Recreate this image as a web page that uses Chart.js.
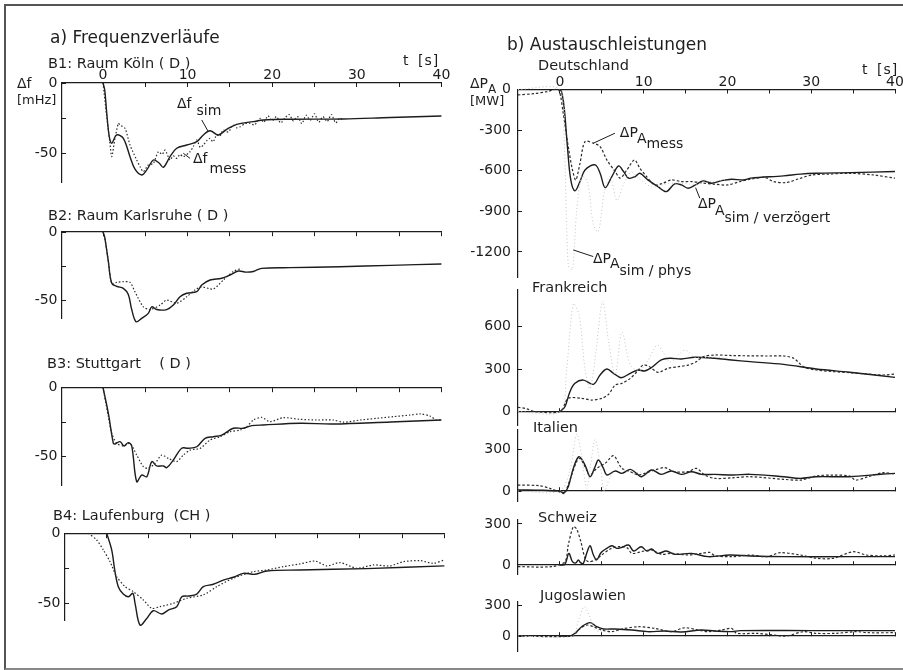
<!DOCTYPE html>
<html><head><meta charset="utf-8">
<script src="https://cdn.jsdelivr.net/npm/chart.js@4.4.1/dist/chart.umd.min.js"></script>
<style>
body{margin:0;background:#fff;width:903px;height:670px;overflow:hidden;position:relative;font-family:"DejaVu Sans",sans-serif;color:#1e1e1e}
.frame{position:absolute;left:4px;top:4px;width:905px;height:662px;border-top:2px solid #555;border-left:2px solid #555;border-bottom:2px solid #888}
.t{position:absolute;white-space:pre;line-height:1;color:#1e1e1e}
canvas{position:absolute}
</style></head><body>
<div class="frame"></div>
<script>
// ---------- DATA (time t [s], value) ----------
// a) Frequenzverläufe, Δf [mHz]
const B1_SIM = [[0,0],[0.2,-5],[0.44,-21.6],[0.74,-38.4],[1.03,-43.1],[1.62,-37.1],[2.4,-39.5],[3.19,-52.6],[3.78,-61.6],[4.57,-65.7],[5.17,-62.1],[5.95,-55],[6.6,-57],[7.13,-60.2],[7.92,-52.6],[8.71,-46.6],[9.89,-44.3],[11.08,-41.9],[11.86,-37.1],[12.65,-34.1],[13.63,-37.1],[14.62,-33.1],[15.8,-29.5],[17.77,-27.6],[18.95,-26.4],[22.1,-25.9],[28.4,-25.7],[34,-24.6],[40,-23.6]];
const B1_MESS = [[0,0],[0.44,-24],[0.8,-42],[1.03,-52.6],[1.4,-40],[1.81,-28.8],[2.0,-30],[2.6,-32.4],[3.19,-44.3],[3.98,-55],[4.4,-60],[4.76,-63.4],[5.35,-58.6],[5.95,-57.4],[6.54,-49.1],[7.0,-51],[7.33,-47.9],[7.92,-55],[8.3,-52],[8.71,-53.8],[9.1,-51],[9.49,-52.6],[10.28,-49.1],[10.7,-45],[11.08,-40.7],[11.5,-46],[11.86,-44.3],[12.3,-41],[12.65,-39.5],[13.0,-42],[13.44,-37.1],[13.8,-38],[14.22,-33.6],[14.8,-35],[15.4,-30],[15.8,-32],[16.2,-31.2],[16.8,-29],[17.4,-28.8],[17.9,-30],[18.56,-25.2],[19.0,-28],[19.5,-23.5],[20.0,-27],[20.5,-24],[21.0,-28.5],[21.5,-25],[22.0,-22.5],[22.5,-27],[23.0,-24],[23.5,-29],[24.0,-23],[24.5,-26.5],[25.0,-22],[25.5,-28],[26.0,-24],[26.5,-27.5],[27.0,-22.5],[27.5,-28.5],[28.0,-25],[28.4,-27]];
const B2_SIM = [[0,0],[0.2,-4],[0.63,-21.8],[1.03,-37.7],[1.62,-40],[2.4,-41.4],[2.99,-46],[3.39,-57],[3.9,-65.9],[4.57,-63.5],[5.35,-59.8],[5.76,-55],[6.35,-57],[7.53,-57],[8.31,-53.7],[9.1,-47.6],[9.89,-45],[11.08,-43.9],[11.67,-39],[12.65,-35.3],[14.03,-34],[15.01,-31.6],[15.99,-28.7],[16.9,-29.5],[17.77,-29],[18.76,-26.7],[22.1,-26.2],[28,-25.5],[34,-24.5],[40,-23.5]];
const B2_MESS = [[0,0],[0.2,-4],[0.63,-21.8],[1.03,-37.7],[1.62,-37],[2.4,-36.5],[3.19,-37],[3.78,-44],[4.76,-55],[5.56,-57],[6.74,-53.7],[7.53,-50],[8.71,-52.4],[9.89,-47.6],[10.87,-42.6],[11.67,-40.4],[13.04,-41.9],[14.22,-35.3],[15.4,-29],[16.4,-26.7]];
const B3_SIM = [[0,0],[0.63,-18.6],[1.22,-40.3],[1.42,-40.8],[2.01,-39.1],[2.48,-42.2],[2.99,-39.8],[3.39,-42.2],[3.98,-68.1],[4.57,-63.3],[5.17,-64.5],[5.76,-53.6],[6.35,-56.7],[7.13,-56.7],[7.53,-57.9],[8.31,-52.4],[9.3,-43.9],[10.08,-43.9],[11.08,-42.8],[12.06,-36.7],[13.04,-35.5],[14.03,-34.3],[15.4,-29.4],[16.58,-29.4],[17.58,-27.5],[18.95,-27],[23.3,-25.8],[27.2,-26.3],[34,-24.8],[40,-23.4]];
const B3_MESS = [[0,0],[0.63,-21],[1.03,-33],[1.62,-40.3],[2.4,-42.2],[3.19,-40.3],[3.98,-48.8],[4.76,-57.2],[5.35,-58.5],[6.15,-54.8],[6.94,-48.8],[7.72,-51.2],[8.71,-53.6],[9.49,-48.8],[10.28,-45.2],[11.47,-44],[12.65,-37.9],[13.83,-35.5],[15.01,-31.9],[16.2,-30.7],[16.99,-28.3],[17.77,-23.4],[18.76,-21.5],[19.74,-24.6],[21.31,-21.7],[23.29,-22.9],[25.26,-23.4],[27.2,-23.4],[28.4,-25],[30.4,-23.4],[32.35,-22.2],[34.3,-21],[36.3,-19.8],[37.5,-19],[38.65,-20.5],[39.4,-23.4],[40,-23.4]];
const B4_SIM = [[0.08,0],[0.67,-11.9],[1.06,-27.4],[1.45,-38.1],[2.04,-43.4],[2.64,-45.3],[3.16,-42.9],[3.43,-50],[4.02,-65.5],[4.81,-60.9],[5.59,-55.3],[6.58,-57.6],[7.36,-54.8],[8.36,-52.4],[8.95,-45.3],[9.73,-44.8],[10.72,-43.4],[11.5,-38.1],[12.68,-36.4],[13.87,-33.4],[15.05,-31.4],[16.23,-28.6],[17.61,-29.3],[19,-26.9],[22.9,-26.2],[30.8,-25.2],[40,-23.3]];
const B4_MESS = [[-2.09,0],[-1.1,-4.8],[-0.32,-11.9],[0.47,-20.2],[1.26,-31],[2.25,-38.1],[3.23,-41.7],[4.41,-47.6],[5.4,-53.6],[6.38,-52.4],[7.96,-50],[9.54,-46.4],[11.5,-44],[13.09,-38.1],[15.05,-32.1],[17.41,-27.4],[19,-26.2],[20.96,-23.8],[22.93,-21.9],[24.7,-19.8],[26.1,-23.3],[27.66,-20.9],[29.63,-25],[31.6,-22.6],[33.57,-23.3],[35.14,-20.3],[37.1,-19.5],[38.7,-21.4],[40,-19]];
// b) Austauschleistungen, ΔP_A [MW]
const DE_SIM = [[0,0],[0.2,-16],[0.5,-127],[0.9,-422],[1.3,-668],[1.8,-749],[2.4,-680],[3.0,-594],[4.2,-557],[4.8,-619],[5.4,-725],[6.2,-643],[7.0,-565],[7.6,-606],[8.2,-655],[9.0,-643],[9.55,-619],[10.5,-668],[11.7,-717],[12.7,-754],[13.7,-697],[14.5,-705],[15.3,-729],[16.3,-700],[17.1,-675],[18.1,-692],[19.3,-673],[20.5,-663],[21.9,-668],[22.8,-655],[26.7,-638],[28.7,-625],[30.6,-619],[34.6,-614],[40,-606]];
const DE_MESS = [[-5,-40],[-3,-30],[-1.5,-15],[-0.6,0],[-0.1,-5],[0.4,-176],[1.0,-422],[1.5,-594],[1.9,-668],[2.4,-545],[3.0,-385],[4.0,-397],[4.8,-422],[5.6,-520],[6.6,-606],[7.2,-655],[8.0,-594],[8.9,-520],[9.55,-582],[10.35,-643],[11.3,-705],[12.3,-692],[13.3,-668],[14.5,-680],[15.7,-680],[17,-690],[18.5,-700],[20,-705],[21.5,-680],[23,-660],[24.5,-650],[25.5,-680],[27,-688],[28.5,-660],[30.1,-631],[32,-625],[34.6,-619],[37.4,-631],[40,-655]];
const DE_PHYS = [[-5,0],[0,0],[0.5,-350],[1.0,-1300],[1.5,-1330],[2.0,-900],[2.6,-640],[3.3,-680],[4.0,-1000],[4.6,-1050],[5.3,-760],[6.0,-640],[6.8,-820],[7.6,-700],[8.5,-610],[9.5,-660],[11,-720],[12.5,-700],[14,-690],[16,-700],[18,-680],[20,-665]];
const FR_SIM = [[0,0],[0.6,34],[1.2,140],[1.8,199],[2.8,222],[4.0,192],[4.8,258],[5.6,300],[6.4,270],[7.3,239],[8.4,270],[9.35,293],[10.1,286],[10.9,309],[12.1,364],[13.1,376],[14.5,371],[16.1,383],[18.5,376],[20.5,364],[22.7,352],[26.7,333],[30.6,300],[34.6,277],[40,241]];
const FR_MESS = [[-5,30],[-4,20],[-3,0],[0,0],[1.0,93],[2.6,93],[3.8,81],[5.0,93],[5.8,121],[6.6,187],[7.4,199],[8.4,234],[9.2,281],[9.95,328],[10.7,316],[11.7,277],[12.9,305],[14.1,316],[15.3,328],[16.3,352],[17.1,387],[18.5,399],[20.6,395],[24.7,392],[26.7,392],[27.9,376],[29.1,316],[30.6,293],[34.6,274],[38.6,258],[40,265]];
const FR_PHYS = [[-5,0],[0,0],[0.8,300],[1.6,760],[2.3,680],[3.0,300],[3.6,160],[4.3,420],[5.1,780],[5.8,500],[6.6,260],[7.4,560],[8.4,330],[9.5,290],[10.5,360],[11.6,470],[12.3,420],[13.2,350],[14.9,434],[16.2,380],[18,385],[20,375]];
const IT_SIM = [[-5,8],[-2,5],[0,-3],[0.5,-12],[1.0,31],[1.6,163],[2.27,247],[3.0,187],[3.6,103],[4.2,175],[4.6,223],[5.2,163],[5.6,115],[6.6,144],[7.4,127],[8.4,156],[9.15,127],[9.75,103],[10.95,151],[12.1,120],[13.3,144],[14.5,120],[15.7,139],[16.9,120],[18.5,120],[20.7,115],[22.7,120],[26.7,103],[28.7,91],[30.6,103],[34.6,103],[38.6,122],[40,127]];
const IT_MESS = [[-5,43],[-2.4,38],[-1.2,19],[0.4,-17],[0.6,-17],[1.4,115],[2.0,211],[2.4,235],[3.0,175],[3.6,115],[4.4,163],[5.4,199],[6.4,254],[7.4,163],[8.4,139],[9.35,115],[10.1,127],[11.3,151],[12.5,168],[13.7,139],[15.3,139],[16.3,163],[17.3,115],[18.5,91],[20.6,95],[22.7,103],[26.7,84],[28.7,79],[30.6,108],[32.5,115],[34.6,108],[35.3,79],[36.8,103],[38.6,132],[40,122]];
const IT_PHYS = [[-5,0],[0,0],[1.2,150],[2.0,410],[2.6,250],[3.2,20],[3.7,200],[4.2,370],[4.8,200],[5.3,0],[6,100],[7,170],[8,140],[9,130],[10,140]];
const CH_SIM = [[0,0],[0.6,5],[1.07,85],[1.5,24],[1.9,15],[2.2,37],[2.5,15],[2.8,12],[3.2,85],[3.6,141],[4.0,73],[4.4,37],[4.9,90],[5.6,122],[6.2,141],[6.8,122],[7.3,127],[8.2,146],[8.8,102],[9.7,134],[10.4,102],[10.95,117],[11.7,85],[12.7,102],[13.7,78],[15.7,85],[17.7,61],[20.3,73],[22.7,66],[26.7,61],[34.6,61],[40,61]];
const CH_MESS = [[-5,-12],[-1,-12],[0.6,24],[1.0,146],[1.6,280],[2.0,263],[2.5,171],[3.0,49],[3.4,24],[4.2,37],[5.0,73],[6.0,117],[7.0,134],[8.0,127],[8.6,85],[9.75,98],[10.95,110],[12.1,78],[13.3,85],[15.3,73],[16.9,85],[17.9,92],[18.5,68],[20.5,61],[22.7,73],[24.7,61],[26.3,90],[28.7,73],[30.6,49],[32.6,49],[35.0,97],[36.6,73],[38.5,66],[40,73]];
const YU_SIM = [[0,0],[1.2,0],[1.8,26],[2.6,90],[3.6,129],[4.4,90],[5.2,68],[6.6,68],[8.6,58],[10.5,42],[12.5,48],[14.5,39],[16.9,58],[18.5,48],[20.5,42],[21.5,52],[30,52],[40,52]];
const YU_MESS = [[-5,0],[1.5,0],[2.2,58],[3.2,106],[4.0,90],[5.0,58],[6.2,42],[7.4,68],[9.35,90],[11.3,74],[13.3,42],[14.9,80],[16.5,58],[17.7,42],[19.3,58],[20.5,74],[21.1,26],[23.5,26],[25.5,10],[27,0],[29.1,42],[30.5,26],[33,26],[35.3,42],[36.8,32],[40,32]];
const YU_PHYS = [[-5,0],[1.5,0],[2.2,150],[2.9,285],[3.5,200],[4.2,60],[5,45],[6,55]];

// tick values and labels
const X_TICKS = [0, 5, 10, 15, 20, 25, 30, 35, 40];
const X_TICK_LABELS = [0, 10, 20, 30, 40];
const B_Y_TICKS = [0, -25, -50];
const B_Y_LABELS = [0, -50];
const DE_Y_TICKS = [0, -300, -600, -900, -1200];
const FR_Y_TICKS = [0, 300, 600];
const SMALL_Y_TICKS = [0, 300];

// ---------- STYLE ----------
const FONT = '"DejaVu Sans", sans-serif';
const INK = '#1c1c1c';
const STYLE = {
  sim:   {borderColor: INK, borderWidth: 1.4, borderDash: [], tension: 0.35},
  mess:  {borderColor: '#2a2a2a', borderWidth: 1.2, borderDash: [1.5, 2], tension: 0.25},
  messR: {borderColor: '#2a2a2a', borderWidth: 1.2, borderDash: [2.5, 2], tension: 0.3},
  phys:  {borderColor: '#c4c4c4', borderWidth: 1, borderDash: [1, 2.5], tension: 0.3}
};

function notesPlugin(notes) {
  return {
    id: 'notes',
    afterDatasetsDraw(chart) {
      if (!notes) return;
      const {ctx} = chart, x = chart.scales.x, y = chart.scales.y;
      ctx.save();
      ctx.strokeStyle = INK; ctx.fillStyle = INK; ctx.lineWidth = 1;
      (notes.lines || []).forEach(l => {
        ctx.beginPath();
        ctx.moveTo(x.getPixelForValue(l[0]), y.getPixelForValue(l[1]));
        ctx.lineTo(x.getPixelForValue(l[2]), y.getPixelForValue(l[3]));
        ctx.stroke();
      });
      (notes.texts || []).forEach(t => {
        let px = x.getPixelForValue(t.at[0]);
        const py = y.getPixelForValue(t.at[1]);
        t.parts.forEach(p => {
          ctx.font = (p.size || 14) + 'px ' + FONT;
          ctx.textBaseline = 'alphabetic';
          px += (p.gap || 0);
          ctx.fillText(p.text, px, py + (p.dy || 0));
          px += ctx.measureText(p.text).width;
        });
      });
      ctx.restore();
    }
  };
}

function makeChart(c) {
  const XH = c.xTop ? 22 : 0, M = 28;
  const cl = Math.floor(c.L - c.yw), ct = Math.floor(c.T - XH - M);
  const cw = Math.ceil(c.R + M) - cl, ch = Math.ceil(c.B + M) - ct;
  const cv = document.createElement('canvas');
  cv.width = cw; cv.height = ch;
  cv.style.left = cl + 'px'; cv.style.top = ct + 'px';
  cv.style.width = cw + 'px'; cv.style.height = ch + 'px';
  document.body.appendChild(cv);
  const pad = {left: c.L - c.yw - cl, top: c.T - XH - ct, right: cl + cw - c.R, bottom: ct + ch - c.B};
  const datasets = c.series.map(([kind, pts]) => Object.assign({
    data: pts.map(p => ({x: p[0], y: p[1]})),
    pointRadius: 0, fill: false, clip: false
  }, STYLE[kind]));
  new Chart(cv, {
    type: 'line',
    data: {datasets},
    options: {
      responsive: false, animation: false, devicePixelRatio: 1, events: [],
      layout: {padding: pad},
      elements: {line: {capBezierPoints: false}, point: {radius: 0}},
      plugins: {legend: {display: false}, tooltip: {enabled: false}},
      scales: {
        x: {
          type: 'linear', axis: 'x', position: c.xTop ? 'top' : {y: 0},
          min: c.xmin, max: c.xmax,
          afterBuildTicks: s => { s.ticks = X_TICKS.map(v => ({value: v})); },
          afterFit: s => { if (c.xTop) s.height = XH; },
          grid: {drawOnChartArea: false, color: INK, lineWidth: 1, tickLength: c.xtl},
          border: {display: true, color: INK, width: 1.2},
          ticks: {display: !!c.xTop, padding: 3, maxRotation: 0, autoSkip: false,
                  font: {family: FONT, size: 14}, color: INK,
                  callback: v => X_TICK_LABELS.includes(Math.round(v)) ? String(Math.round(v)) : ''}
        },
        y: {
          type: 'linear', position: 'left', min: c.ymin, max: c.ymax,
          afterBuildTicks: s => { s.ticks = c.yticks.map(v => ({value: v})); },
          afterFit: s => { s.width = c.yw; },
          grid: {drawOnChartArea: false, color: INK, lineWidth: 1, tickLength: -4},
          border: {display: true, color: INK, width: 1.2},
          ticks: {padding: c.ypad, autoSkip: false,
                  font: {family: FONT, size: 14}, color: INK,
                  callback: v => c.ylabels.includes(Math.round(v)) ? String(Math.round(v)) : ''}
        }
      }
    },
    plugins: [notesPlugin(c.notes)]
  });
}

const B1_NOTES = {
  lines: [[11.67, -26.4, 12.45, -34.8], [9.49, -50.2, 10.28, -53.8]],
  texts: [
    {at: [8.75, -17.9], parts: [{text: 'Δf'}, {text: 'sim', dy: 7, gap: 5}]},
    {at: [10.64, -57.1], parts: [{text: 'Δf'}, {text: 'mess', dy: 10, gap: 2}]}
  ]
};
const DE_NOTES = {
  lines: [[3.98, -397, 6.57, -323], [16.2, -725, 16.7, -803], [1.59, -1185, 3.98, -1234]],
  texts: [
    {at: [7.16, -351], parts: [{text: 'ΔP'}, {text: 'A', dy: 6, gap: -1}, {text: 'mess', dy: 11}]},
    {at: [16.48, -875], parts: [{text: 'ΔP'}, {text: 'A', dy: 7, gap: -1}, {text: 'sim / verzögert', dy: 14}]},
    {at: [3.94, -1280], parts: [{text: 'ΔP'}, {text: 'A', dy: 5, gap: -1}, {text: 'sim / phys', dy: 12}]}
  ]
};

const LEFT = {xmin: -4.85, xmax: 40, yticks: B_Y_TICKS, ylabels: B_Y_LABELS, yw: 45, ypad: 8.5};
const RIGHT = {xmin: -5, xmax: 40, yw: 52, ypad: 11, L: 518, R: 895};

makeChart(Object.assign({}, LEFT, {L: 62, R: 441.4, T: 83, B: 182.4, ymin: -71, ymax: 0, xTop: true, xtl: -4,
  series: [['mess', B1_MESS], ['sim', B1_SIM]], notes: B1_NOTES}));
makeChart(Object.assign({}, LEFT, {L: 62, R: 441.4, T: 232, B: 318, ymin: -63.2, ymax: 0, xtl: 4,
  series: [['mess', B2_MESS], ['sim', B2_SIM]]}));
makeChart(Object.assign({}, LEFT, {L: 62, R: 441.4, T: 387.7, B: 485, ymin: -70.5, ymax: 0, xtl: 4,
  series: [['mess', B3_MESS], ['sim', B3_SIM]]}));
makeChart(Object.assign({}, LEFT, {L: 65, R: 444.4, T: 533.3, B: 620.1, ymin: -62, ymax: 0, xtl: 4,
  series: [['mess', B4_MESS], ['sim', B4_SIM]]}));

makeChart(Object.assign({}, RIGHT, {T: 89.5, B: 277, ymin: -1385, ymax: 0, yticks: DE_Y_TICKS, ylabels: DE_Y_TICKS, xTop: true, xtl: -4,
  series: [['phys', DE_PHYS], ['messR', DE_MESS], ['sim', DE_SIM]], notes: DE_NOTES}));
makeChart(Object.assign({}, RIGHT, {T: 289.7, B: 425.7, ymin: -100, ymax: 860, yticks: FR_Y_TICKS, ylabels: FR_Y_TICKS, xtl: -4,
  series: [['phys', FR_PHYS], ['messR', FR_MESS], ['sim', FR_SIM]]}));
makeChart(Object.assign({}, RIGHT, {T: 429.9, B: 501.7, ymin: -77, ymax: 440, yticks: SMALL_Y_TICKS, ylabels: SMALL_Y_TICKS, xtl: -4,
  series: [['phys', IT_PHYS], ['messR', IT_MESS], ['sim', IT_SIM]]}));
makeChart(Object.assign({}, RIGHT, {T: 519.9, B: 574, ymin: -66, ymax: 330, yticks: SMALL_Y_TICKS, ylabels: SMALL_Y_TICKS, xtl: -4,
  series: [['messR', CH_MESS], ['sim', CH_SIM]]}));
makeChart(Object.assign({}, RIGHT, {T: 601.7, B: 651.5, ymin: -150, ymax: 332, yticks: SMALL_Y_TICKS, ylabels: SMALL_Y_TICKS, xtl: -4,
  series: [['phys', YU_PHYS], ['messR', YU_MESS], ['sim', YU_SIM]]}));

// ---------- static text ----------
function txt(html, x, base, size, extra) {
  const d = document.createElement('div');
  d.className = 't';
  d.innerHTML = html;
  d.style.left = x + 'px';
  d.style.top = (base - 0.846 * size) + 'px';
  d.style.fontSize = size + 'px';
  if (extra) d.style.cssText += extra;
  document.body.appendChild(d);
}
txt('a) Frequenzverläufe', 50, 43, 17);
txt('B1: Raum Köln ( D )', 48, 68, 14.5);
txt('t [s]', 403, 65, 14, 'letter-spacing:1px;word-spacing:3px');
txt('Δf', 17, 88, 14);
txt('[mHz]', 17, 104, 13);
txt('B2: Raum Karlsruhe ( D )', 48, 220, 14.5);
txt('B3: Stuttgart    ( D )', 47, 368, 14.5);
txt('B4: Laufenburg  (CH )', 53, 520, 14.5);
txt('b) Austauschleistungen', 507, 50, 17);
txt('Deutschland', 538, 70, 14.5);
txt('t [s]', 862, 74, 14, 'letter-spacing:1px;word-spacing:3px');
txt('ΔP<span style="font-size:12px;position:relative;top:5px">A</span>', 470, 88, 14);
txt('[MW]', 470, 105, 13);
txt('Frankreich', 532, 292, 14.5);
txt('Italien', 533, 432, 14.5);
txt('Schweiz', 538, 522, 14.5);
txt('Jugoslawien', 540, 600, 14.5);
</script>
</body></html>
